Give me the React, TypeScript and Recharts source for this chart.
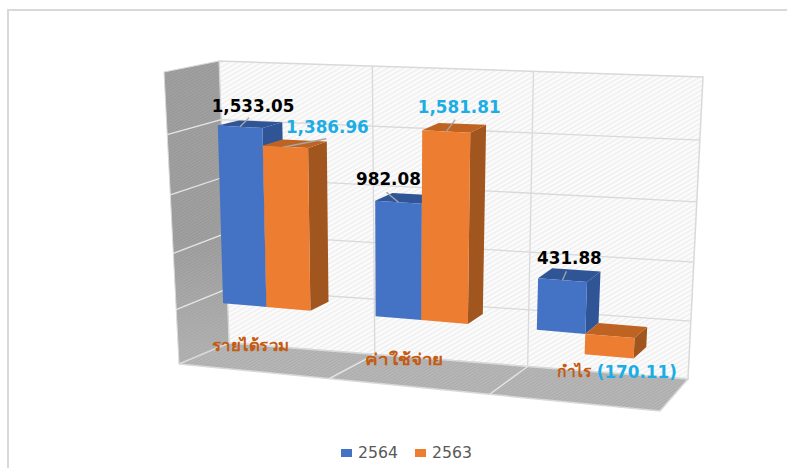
import React from 'react';
import { BarChart, Bar, XAxis, YAxis, Legend, LabelList, usePlotArea } from 'recharts';

const categories = ['รายได้รวม', 'ค่าใช้จ่าย', 'กำไร'];
const values2564 = [1533.05, 982.08, 431.88];
const values2563 = [1386.96, 1581.81, -170.11];
const valueTicks = [-500, 0, 500, 1000, 1500, 2000];

const chartData = categories.map((name, i) => ({
  name,
  y2564: values2564[i],
  y2563: values2563[i],
}));

type Pt = [number, number];
type Quad = [Pt, Pt, Pt, Pt]; // top-left, top-right, bottom-right, bottom-left

// the box in the picture
const BACK_WALL: Quad = [[219, 61], [703, 77], [688, 379], [229, 343]];
const SIDE_WALL: Quad = [[164, 72], [219, 61], [229, 343], [179, 364]];
const FLOOR: Quad = [[229, 343], [688, 379], [660, 411], [179, 364]];
// plane of the bars' front faces and plane of their back faces
const BAR_FRONT: Quad = [[184, 68], [683, 89], [668, 401], [194, 356]];
const BAR_BACK: Quad = [[206, 64], [697, 79], [680, 389], [215, 347]];

const FONT = '"DejaVu Sans", "Noto Sans", sans-serif';
const SKY = '#1CADE4';

// unit square -> quad
function projector(q: Quad) {
  const [[x0, y0], [x1, y1], [x2, y2], [x3, y3]] = q;
  const dx1 = x1 - x2, dx2 = x3 - x2, sx = x0 - x1 + x2 - x3;
  const dy1 = y1 - y2, dy2 = y3 - y2, sy = y0 - y1 + y2 - y3;
  const den = dx1 * dy2 - dx2 * dy1;
  const g = (sx * dy2 - dx2 * sy) / den;
  const h = (dx1 * sy - sx * dy1) / den;
  const a = x1 - x0 + g * x1, b = x3 - x0 + h * x3;
  const d = y1 - y0 + g * y1, e = y3 - y0 + h * y3;
  return (u: number, v: number): Pt => {
    const w = g * u + h * v + 1;
    return [(a * u + b * v + x0) / w, (d * u + e * v + y0) / w];
  };
}

const front = projector(BAR_FRONT);
const back = projector(BAR_BACK);
const backWall = projector(BACK_WALL);
const sideWall = projector(SIDE_WALL);

const pts = (list: Pt[]) => list.map((p) => `${p[0].toFixed(1)},${p[1].toFixed(1)}`).join(' ');

function Bar3D(props: any) {
  const plot = usePlotArea();
  if (!plot) return null;
  const { x, y, width, height, faces } = props;
  const u0 = (x - plot.x) / plot.width;
  const u1 = (x + width - plot.x) / plot.width;
  const v0 = (Math.min(y, y + height) - plot.y) / plot.height;
  const v1 = (Math.max(y, y + height) - plot.y) / plot.height;
  return (
    <g>
      <polygon fill={faces[2]} points={pts([front(u1, v0), back(u1, v0), back(u1, v1), front(u1, v1)])} />
      <polygon fill={faces[1]} points={pts([front(u0, v0), back(u0, v0), back(u1, v0), front(u1, v0)])} />
      <polygon fill={faces[0]} points={pts([front(u0, v0), front(u1, v0), front(u1, v1), front(u0, v1)])} />
    </g>
  );
}

// hand-moved data labels: [leader x, leader y, text x, text y] from the middle of the bar's top edge
const placed2564 = [
  [9, -9, 13, -21],
  [-12, -10, -10, -23],
  [4, -9, 7, -22],
];
const placed2563 = [
  [41, -8, 42, -20],
  [9, -12, 13, -25],
  [0, 0, 27, 36],
];

const money = (v: number) => {
  const s = Math.abs(v).toLocaleString('en-US', { minimumFractionDigits: 2, maximumFractionDigits: 2 });
  return v < 0 ? `(${s})` : s;
};

function BarLabel(props: any) {
  const plot = usePlotArea();
  if (!plot) return null;
  const { x, y, width, height, value, index, placed, fill } = props;
  const u = (x + width / 2 - plot.x) / plot.width;
  const v = (Math.min(y, y + height) - plot.y) / plot.height;
  const [ax, ay] = front(u, v);
  const [lx, ly, tx, ty] = placed[index];
  return (
    <g>
      {(lx !== 0 || ly !== 0) && (
        <line x1={ax} y1={ay} x2={ax + lx} y2={ay + ly} stroke="#a6a6a6" strokeWidth={1.3} />
      )}
      <text
        x={ax + tx}
        y={ay + ty}
        textAnchor="middle"
        dominantBaseline="central"
        fontFamily={FONT}
        fontWeight="bold"
        fontSize={16.8}
        fill={fill}
      >
        {money(value)}
      </text>
    </g>
  );
}

const catLabelPos: Pt[] = [[251, 345], [404, 359], [574.5, 371]];
const catLabelWidth = [78, 78, 35];

function CategoryTick(props: any) {
  const { index, payload } = props;
  const [x, y] = catLabelPos[index];
  return (
    <text
      x={x}
      y={y}
      textAnchor="middle"
      dominantBaseline="central"
      fontFamily={FONT}
      fontWeight="bold"
      fontSize={16}
      fill="#C55A11"
      textLength={catLabelWidth[index]}
      lengthAdjust="spacingAndGlyphs"
    >
      {payload.value}
    </text>
  );
}

function Box() {
  const n = valueTicks.length - 1;
  const line = '#d9d9d9';
  const floorFront = FLOOR[3], floorEnd = FLOOR[2];
  return (
    <g>
      <defs>
        <pattern id="hatchLight" width="4" height="4" patternUnits="userSpaceOnUse" patternTransform="rotate(-30)">
          <rect width="4" height="4" fill="#fcfcfc" />
          <rect width="4" height="1.6" fill="#efefef" />
        </pattern>
        <pattern id="hatchDark" width="2.5" height="2.5" patternUnits="userSpaceOnUse" patternTransform="rotate(-30)">
          <rect width="2.5" height="2.5" fill="#a2a2a2" />
          <rect width="2.5" height="1.1" fill="#979797" />
        </pattern>
        <pattern id="hatchFloor" width="2.5" height="2.5" patternUnits="userSpaceOnUse" patternTransform="rotate(-30)">
          <rect width="2.5" height="2.5" fill="#b8b8b8" />
          <rect width="2.5" height="1.1" fill="#ababab" />
        </pattern>
        <linearGradient id="wallFade" gradientUnits="userSpaceOnUse" x1="0" y1="240" x2="0" y2="350">
          <stop offset="0" stopColor="#ffffff" stopOpacity={0} />
          <stop offset="1" stopColor="#ffffff" stopOpacity={0.18} />
        </linearGradient>
      </defs>
      <polygon points={pts(BACK_WALL)} fill="url(#hatchLight)" stroke={line} strokeWidth={1.5} />
      <polygon points={pts(SIDE_WALL)} fill="url(#hatchDark)" stroke={line} strokeWidth={1} />
      <polygon points={pts(SIDE_WALL)} fill="url(#wallFade)" />
      <polygon points={pts(FLOOR)} fill="url(#hatchFloor)" stroke={line} strokeWidth={1.5} />
      {valueTicks.slice(1, -1).map((t) => {
        const v = (valueTicks[n] - t) / (valueTicks[n] - valueTicks[0]);
        const a = backWall(0, v), b = backWall(1, v), c = sideWall(0, v);
        return (
          <g key={t}>
            <line x1={a[0]} y1={a[1]} x2={b[0]} y2={b[1]} stroke={line} strokeWidth={1.3} />
            <line x1={c[0]} y1={c[1]} x2={a[0]} y2={a[1]} stroke="#e6e6e6" strokeWidth={1.3} />
          </g>
        );
      })}
      {categories.slice(1).map((c, i) => {
        const u = (i + 1) / categories.length;
        const a = backWall(u, 0), b = backWall(u, 1);
        // front end of the floor divider sits on the floor's front edge
        const d: Pt = [
          floorFront[0] + (floorEnd[0] - floorFront[0]) * u - 10,
          floorFront[1] + (floorEnd[1] - floorFront[1]) * u - 1,
        ];
        return (
          <g key={c}>
            <line x1={a[0]} y1={a[1]} x2={b[0]} y2={b[1]} stroke={line} strokeWidth={1.3} />
            <line x1={b[0]} y1={b[1]} x2={d[0]} y2={d[1]} stroke="#e6e6e6" strokeWidth={1.3} />
          </g>
        );
      })}
    </g>
  );
}

function LegendBox(props: any) {
  return (
    <div style={{ display: 'flex', fontFamily: FONT, fontSize: 15.7, color: '#595959', lineHeight: '18px' }}>
      {(props.payload || []).map((p: any) => (
        <div key={p.value} style={{ display: 'flex', alignItems: 'center', marginRight: 17 }}>
          <span style={{ width: 11, height: 8, background: p.color, marginRight: 6 }} />
          {p.value}
        </div>
      ))}
    </div>
  );
}

export default function App() {
  return (
    <div style={{ position: 'absolute', left: 0, top: 0, width: 787, height: 468, overflow: 'hidden', background: '#fff' }}>
      <div style={{ position: 'absolute', left: 7, top: 9, right: -4, bottom: -4, borderLeft: '2px solid #d9d9d9', borderTop: '2px solid #d9d9d9' }} />
      <BarChart
        width={787}
        height={468}
        data={chartData}
        margin={{ top: 0, right: 0, bottom: 0, left: 0 }}
        barCategoryGap="21%"
        barGap={0}
        style={{ position: 'absolute', left: 0, top: 0 }}
      >
        <Box />
        <XAxis dataKey="name" height={1} axisLine={false} tickLine={false} tick={<CategoryTick />} interval={0} />
        <YAxis hide domain={[valueTicks[0], valueTicks[valueTicks.length - 1]]} ticks={valueTicks} />
        <Legend
          content={<LegendBox />}
          itemSorter={null}
          wrapperStyle={{ position: 'absolute', left: 341, top: 444, bottom: 'auto', width: 200 }}
        />
        <Bar
          dataKey="y2564"
          name="2564"
          fill="#4472C4"
          isAnimationActive={false}
          shape={(p: any) => <Bar3D {...p} faces={['#4472C4', '#2F5597', '#2F5597']} />}
        >
          <LabelList
            dataKey="y2564"
            content={(p: any) => <BarLabel {...p} placed={placed2564} fill="#000000" />}
          />
        </Bar>
        <Bar
          dataKey="y2563"
          name="2563"
          fill="#ED7D31"
          isAnimationActive={false}
          shape={(p: any) => <Bar3D {...p} faces={['#ED7D31', '#BE6321', '#A0561E']} />}
        >
          <LabelList
            dataKey="y2563"
            content={(p: any) => <BarLabel {...p} placed={placed2563} fill={SKY} />}
          />
        </Bar>
      </BarChart>
    </div>
  );
}
